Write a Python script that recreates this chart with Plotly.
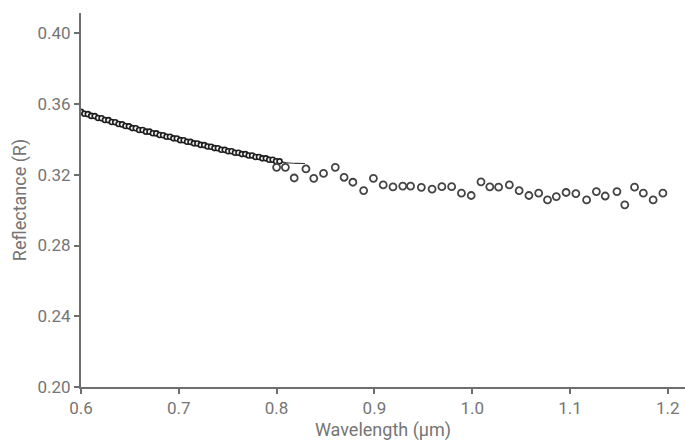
import plotly.graph_objects as go

# Dense measured points (0.60-0.80 µm)
dense_x = [0.600, 0.6035, 0.607, 0.6105, 0.614, 0.6175, 0.621, 0.6245, 0.628, 0.6315,
           0.635, 0.6385, 0.642, 0.6455, 0.649, 0.6525, 0.656, 0.6595, 0.663, 0.6665,
           0.670, 0.6735, 0.677, 0.6805, 0.684, 0.6875, 0.691, 0.6945, 0.698, 0.7015,
           0.705, 0.7085, 0.712, 0.7155, 0.719, 0.7225, 0.726, 0.7295, 0.733, 0.7365,
           0.740, 0.7435, 0.747, 0.7505, 0.754, 0.7575, 0.761, 0.7645, 0.768, 0.7715,
           0.775, 0.7785, 0.782, 0.7855, 0.789, 0.7925, 0.796, 0.7995, 0.803]
dense_y = [0.3556, 0.3545, 0.3543, 0.3533, 0.3532, 0.3521, 0.3520, 0.3510, 0.3509, 0.3499,
           0.3497, 0.3487, 0.3485, 0.3476, 0.3474, 0.3464, 0.3463, 0.3453, 0.3453, 0.3444,
           0.3444, 0.3435, 0.3434, 0.3425, 0.3424, 0.3415, 0.3415, 0.3406, 0.3405, 0.3396,
           0.3395, 0.3387, 0.3386, 0.3378, 0.3377, 0.3369, 0.3368, 0.3360, 0.3359, 0.3351,
           0.3350, 0.3342, 0.3341, 0.3333, 0.3333, 0.3325, 0.3325, 0.3317, 0.3317, 0.3309,
           0.3309, 0.3301, 0.3301, 0.3293, 0.3293, 0.3285, 0.3285, 0.3277, 0.3276]

# Sparse measured points (0.80-1.20 µm)
sparse_x = [0.800, 0.809, 0.818, 0.830, 0.838, 0.848, 0.860, 0.869, 0.878, 0.889,
            0.899, 0.909, 0.919, 0.929, 0.937, 0.948, 0.959, 0.969, 0.979, 0.989,
            0.999, 1.009, 1.018, 1.027, 1.038, 1.048, 1.058, 1.068, 1.077, 1.086,
            1.096, 1.106, 1.117, 1.127, 1.136, 1.148, 1.156, 1.166, 1.175, 1.185, 1.195]
sparse_y = [0.3242, 0.3242, 0.3182, 0.3233, 0.3180, 0.3208, 0.3242, 0.3186, 0.3158, 0.3111,
            0.3180, 0.3143, 0.3132, 0.3136, 0.3136, 0.3129, 0.3119, 0.3133, 0.3133, 0.3096,
            0.3083, 0.3160, 0.3132, 0.3130, 0.3143, 0.3110, 0.3083, 0.3096, 0.3058, 0.3077,
            0.3100, 0.3094, 0.3058, 0.3105, 0.3080, 0.3105, 0.3030, 0.3130, 0.3096, 0.3058, 0.3096]

# Fitted model curve
fit_x = [0.600, 0.625, 0.650, 0.675, 0.700, 0.725, 0.750, 0.775, 0.800, 0.810, 0.820, 0.829]
fit_y = [0.3553, 0.3510, 0.3470, 0.3434, 0.3400, 0.3367, 0.3336, 0.3307, 0.3280, 0.3268, 0.3265, 0.3264]

x_ticks = [0.6, 0.7, 0.8, 0.9, 1.0, 1.1, 1.2]
y_ticks = [0.20, 0.24, 0.28, 0.32, 0.36, 0.40]

fig = go.Figure()
fig.add_trace(go.Scatter(x=fit_x, y=fit_y, mode="lines",
                         line=dict(color="#3a3a3a", width=1.2, shape="spline"),
                         showlegend=False, hoverinfo="skip"))
fig.add_trace(go.Scatter(x=dense_x, y=dense_y, mode="markers",
                         marker=dict(symbol="circle", size=5, color="#f2f2f2",
                                     line=dict(color="#1e1e1e", width=1.6)),
                         showlegend=False))
fig.add_trace(go.Scatter(x=sparse_x, y=sparse_y, mode="markers",
                         marker=dict(symbol="circle", size=7, color="white",
                                     line=dict(color="#444444", width=1.8)),
                         showlegend=False))

axis_color = "#6e6e6e"
font_color = "#757575"
fig.update_layout(
    width=685, height=441,
    margin=dict(l=81, r=0, t=13, b=54),
    plot_bgcolor="white", paper_bgcolor="white",
    font=dict(family="Roboto", size=17, color=font_color),
    xaxis=dict(range=[0.6, 1.2176], tickvals=x_ticks, tickformat=".1f",
               showline=True, linecolor=axis_color, linewidth=2,
               ticks="outside", ticklen=5, tickwidth=1.5, tickcolor=axis_color,
               tickfont=dict(size=17, color=font_color),
               showgrid=False, zeroline=False,
               title=dict(text="Wavelength (µm)", font=dict(size=18, color=font_color), standoff=6)),
    yaxis=dict(range=[0.20, 0.4115], tickvals=y_ticks, tickformat=".2f",
               showline=True, linecolor=axis_color, linewidth=2,
               ticks="outside", ticklen=5, tickwidth=1.5, tickcolor=axis_color,
               tickfont=dict(size=17, color=font_color),
               showgrid=False, zeroline=False,
               title=dict(text="Reflectance (R)", font=dict(size=18, color=font_color), standoff=6)),
)
fig.write_html("out.html")
